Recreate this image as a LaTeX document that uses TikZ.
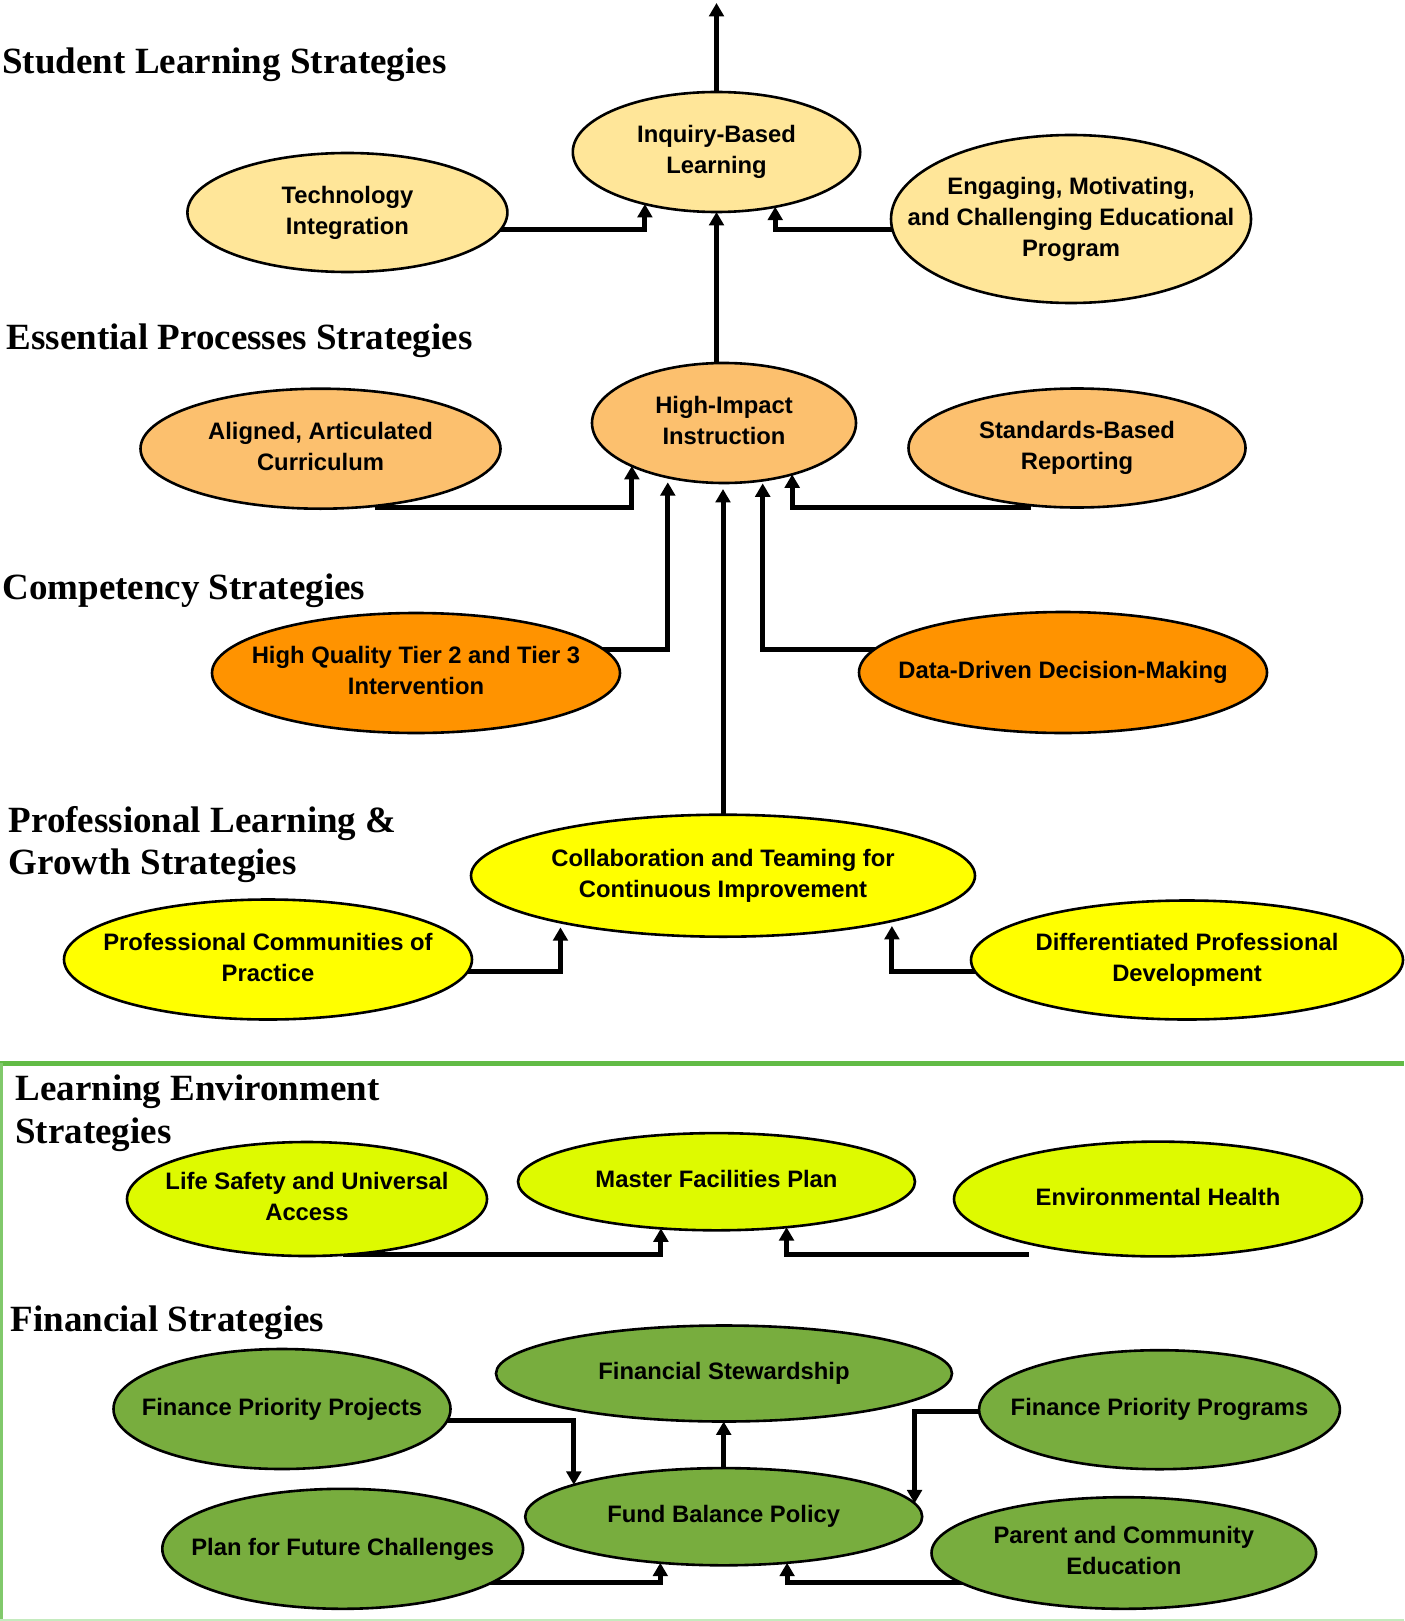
\documentclass[tikz,border=0pt]{standalone}
\usepackage{fontspec}
\newfontfamily\ellfont{Liberation Sans}
\newfontfamily\headfont{Liberation Serif}
\usetikzlibrary{shapes.geometric,arrows.meta,backgrounds}
\definecolor{cTop}{HTML}{FFE699}
\definecolor{cEss}{HTML}{FCC06E}
\definecolor{cComp}{HTML}{FF9300}
\definecolor{cProf}{HTML}{FFFF00}
\definecolor{cEnv}{HTML}{DEFA00}
\definecolor{cFin}{HTML}{78AD3E}
\definecolor{frameGreen}{HTML}{62BB46}
\definecolor{frameLight}{HTML}{C4EBBE}
\newcommand{\etxt}[1]{\makebox[0pt]{\begin{tabular}{@{}c@{}}#1\end{tabular}}}
\begin{document}
\begin{tikzpicture}[x=0.5pt,y=-0.5pt,
  ell/.style={ellipse, draw=black, line width=1.3pt, inner sep=0pt, outer sep=0pt,
    font=\ellfont\bfseries\fontsize{11.9}{15.6}\selectfont},
  sz/.style 2 args={minimum width=#1pt, minimum height=#2pt},
  head/.style={anchor=base west, inner sep=0pt, align=left,
    font=\headfont\bfseries\fontsize{18.5}{21.2}\selectfont},
  conn/.style={line width=2.5pt, -{Triangle[length=6.7pt,width=7.3pt]}},
]
\useasboundingbox (0,0) rectangle (1404,1621);

% headings (multi-line nodes: base = last line)
\node[head] (hStudent) at (2,73.4) {Student Learning Strategies};
\node[head] (hEss) at (6.2,349.5) {Essential Processes Strategies};
\node[head] (hComp) at (2,599.7) {Competency Strategies};
\node[head] (hProf) at (8.3,874.7) {Professional Learning \&\\Growth Strategies};
\node[head] (hEnv) at (15,1143) {Learning Environment\\Strategies};
\node[head] (hFin) at (10.3,1331.7) {Financial Strategies};

% student learning
\node[ell, fill=cTop, sz={143.7}{60}] (inq) at (716.5,152) {\etxt{Inquiry-Based\\Learning}};
\node[ell, fill=cTop, sz={160}{59.5}] (tech) at (347.4,212.5) {\etxt{Technology\\Integration}};
\node[ell, fill=cTop, sz={180}{84}] (eng) at (1071,219) {\etxt{Engaging, Motivating,\\and Challenging Educational\\Program}};

% essential processes
\node[ell, fill=cEss, sz={180}{60}] (ali) at (320.5,448.7) {\etxt{Aligned, Articulated\\Curriculum}};
\node[ell, fill=cEss, sz={132}{60}] (hii) at (724,423) {\etxt{High-Impact\\Instruction}};
\node[ell, fill=cEss, sz={168.5}{59.5}] (std) at (1077,448) {\etxt{Standards-Based\\Reporting}};

% competency
\node[ell, fill=cComp, sz={204}{60}] (hq) at (416,673) {\etxt{High Quality Tier 2 and Tier 3\\Intervention}};
\node[ell, fill=cComp, sz={204}{60.5}] (dd) at (1063,672.5) {\etxt{Data-Driven Decision-Making}};

% professional learning
\node[ell, fill=cProf, sz={252}{61}] (col) at (723,875.7) {\etxt{Collaboration and Teaming for\\Continuous Improvement}};
\node[ell, fill=cProf, sz={204}{60}] (pc) at (268,959.5) {\etxt{Professional Communities of\\Practice}};
\node[ell, fill=cProf, sz={216}{59.5}] (dpd) at (1187,960) {\etxt{Differentiated Professional\\Development}};

% learning environment
\node[ell, fill=cEnv, sz={180}{57}] (ls) at (307,1199) {\etxt{Life Safety and Universal\\Access}};
\node[ell, fill=cEnv, sz={198.5}{48.6}] (mfp) at (716.5,1181.7) {\etxt{Master Facilities Plan}};
\node[ell, fill=cEnv, sz={204}{57.4}] (eh) at (1158,1199) {\etxt{Environmental Health}};

% financial
\node[ell, fill=cFin, sz={168.5}{60}] (fpp) at (282,1409) {\etxt{Finance Priority Projects}};
\node[ell, fill=cFin, sz={228}{48}] (fs) at (724,1373.5) {\etxt{Financial Stewardship}};
\node[ell, fill=cFin, sz={180.4}{59.5}] (fpg) at (1159.5,1409.7) {\etxt{Finance Priority Programs}};
\node[ell, fill=cFin, sz={198.5}{48.6}] (fbp) at (723.7,1516.7) {\etxt{Fund Balance Policy}};
\node[ell, fill=cFin, sz={180.4}{60}] (pff) at (342.7,1548.8) {\etxt{Plan for Future Challenges}};
\node[ell, fill=cFin, sz={192.3}{55.8}] (pce) at (1123.8,1553) {\etxt{Parent and Community\\Education}};

\coordinate (topEnd) at (716.5,3);

\begin{scope}[on background layer]
  % frame
  \draw[frameGreen, line width=2.5pt] (0,1063) -- (1404,1063);
  \draw[frameGreen!80, line width=1.5pt] (1.5,1063) -- (1.5,1621);
  \draw[frameLight, line width=1.5pt] (0,1620) -- (1404,1620);

  % student learning
  \draw[conn] (inq.north) -- (topEnd);
  \draw[conn] ([shift={(0,17)}]tech.center) -| (inq.-144.45);
  \draw[conn] ([shift={(0,10.5)}]eng.center) -| (inq.-43.72);
  \draw[conn] (hii.north -| inq.south) -- (inq.south);

  % essential processes
  \draw[conn] ([shift={(54.5,58.9)}]ali.center) -| (hii.-155.56);
  \draw[conn] ([shift={(-46,59.5)}]std.center) -| (hii.-37.66);
  \draw[conn, shorten >=2.5pt] ([shift={(0,-24)}]hq.center) -| (hii.-136.5);
  \draw[conn, shorten >=1.5pt] ([shift={(0,-23.5)}]dd.center) -| (hii.-56.53);
  \draw[conn, shorten >=3pt] (col.north) -- (col.north |- hii.south);

  % professional learning
  \draw[conn, shorten >=2.5pt] ([shift={(0,12.4)}]pc.center) -| (col.-164.83);
  \draw[conn, shorten >=2.5pt] ([shift={(0,11.9)}]dpd.center) -| (col.-15.92);

  % learning environment
  \draw[conn] ([shift={(36,55)}]ls.center) -| (mfp.-140.13);
  \draw[conn] ([shift={(-129.3,55)}]eh.center) -| (mfp.-33.29);

  % financial
  \draw[conn] ([shift={(0,11.6)}]fpp.center) -| (fbp.168.17);
  \draw[conn] ([shift={(0,1.3)}]fpg.center) -| (fbp.4.91);
  \draw[conn] (fbp.north) -- (fbp.north |- fs.south);
  \draw[conn] ([shift={(0,33.2)}]pff.center) -| (fbp.-144.81);
  \draw[conn] ([shift={(0,29)}]pce.center) -| (fbp.-36.65);
\end{scope}
\end{tikzpicture}
\end{document}
